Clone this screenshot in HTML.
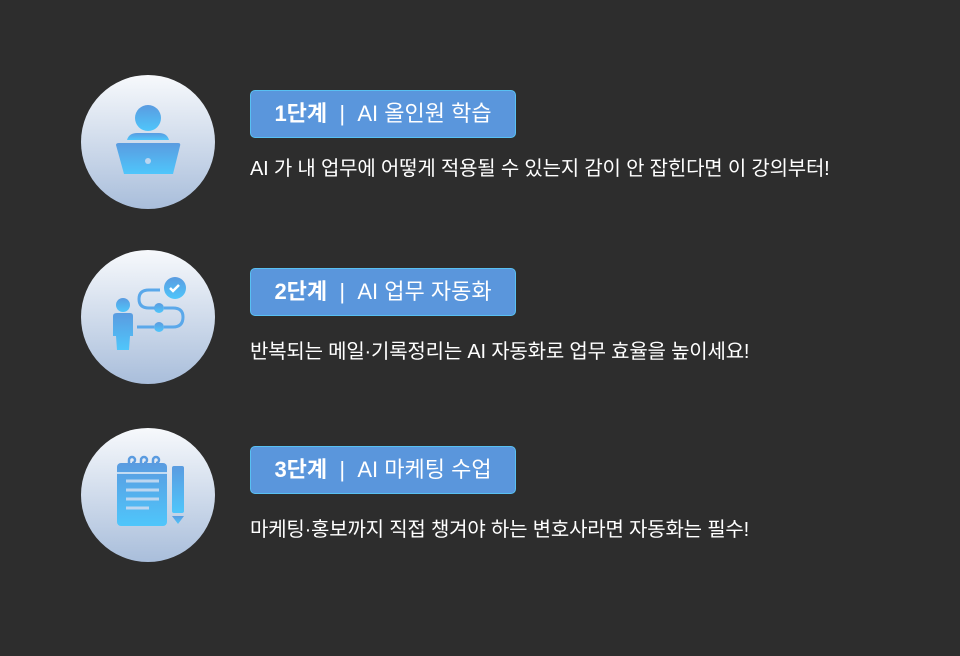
<!DOCTYPE html><html><head><meta charset="utf-8"><style>
body{margin:0;width:960px;height:656px;background:#2d2d2d;font-family:"Liberation Sans","Noto Sans CJK KR",sans-serif;position:relative;overflow:hidden}
.c{position:absolute;left:81px;width:134px;height:134px;border-radius:50%;background:linear-gradient(#f7f9fc,#a9bedb)}
.c svg{position:absolute;left:0;top:0}
.b{position:absolute;left:250px;width:264px;height:46px;background:#5a96dc;border:1px solid #58c0f2;border-radius:5px;color:#fff;font-size:22px;font-weight:bold;line-height:46px;text-align:center;letter-spacing:0px}
.b span{font-weight:normal}
.t{position:absolute;left:250px;color:#fff;font-size:20px;letter-spacing:-0.2px;white-space:nowrap}
</style></head><body>
<svg width="0" height="0" style="position:absolute"><defs><linearGradient id="g" x1="0" y1="0" x2="0" y2="1"><stop offset="0" stop-color="#5a9be0"/><stop offset="1" stop-color="#4fc6fb"/></linearGradient></defs></svg>
<div class="c" style="top:75px"><svg width="134" height="134"><g fill="url(#g)"><circle cx="67" cy="43" r="13"/><path d="M46 65 Q48 58 56 58 H78 Q86 58 88 65 Z"/><path d="M35 70 Q35 68 38 68 H97 Q100 68 99 71 L92 99 H43 Z"/></g><circle cx="67" cy="86" r="3" fill="#bcd6f0"/></svg></div>
<div class="c" style="top:250px"><svg width="134" height="134"><g fill="url(#g)"><circle cx="42" cy="55" r="7"/><path d="M32 66 Q32 63 36 63 H49 Q52 63 52 66 V86 H49 L48 100 H36 L35 86 H32 Z"/><circle cx="94" cy="38" r="11"/><circle cx="78" cy="58" r="5"/><circle cx="78" cy="77" r="5"/></g><g stroke="#5aa8ea" stroke-width="3" fill="none"><path d="M79 40 H68 Q58 40 58 49 Q58 58 68 58 H74"/><path d="M83 58 H92 Q102 58 102 67 Q102 77 92 77 H83"/><path d="M56 77 H73"/></g><path d="M89 38 l3 3 l6 -6" stroke="#fff" stroke-width="2.5" fill="none"/></svg></div>
<div class="c" style="top:428px"><svg width="134" height="134"><g fill="url(#g)"><rect x="36" y="35" width="50" height="63" rx="4"/><rect x="91" y="38" width="12" height="47" rx="2"/><path d="M91 88 H103 L97 96 Z"/></g><g stroke="#5a9be0" stroke-width="2.5" fill="none"><path d="M48 38 v-6 a3 3 0 1 1 3 3"/><path d="M60 38 v-6 a3 3 0 1 1 3 3"/><path d="M72 38 v-6 a3 3 0 1 1 3 3"/></g><g stroke="#bcd6f0" stroke-width="3"><path d="M45 53 H78 M45 62 H78 M45 71 H78 M45 80 H68"/><path d="M36 45 H86" stroke="#e8f0f8" stroke-width="1.5"/></g></svg></div>
<div class="b" style="top:90px">1단계 &nbsp;<span>|</span>&nbsp; <span>AI 올인원 학습</span></div>
<div class="t" style="top:152px">AI 가 내 업무에 어떻게 적용될 수 있는지 감이 안 잡힌다면 이 강의부터!</div>
<div class="b" style="top:268px">2단계 &nbsp;<span>|</span>&nbsp; <span>AI 업무 자동화</span></div>
<div class="t" style="top:335px">반복되는 메일·기록정리는 AI 자동화로 업무 효율을 높이세요!</div>
<div class="b" style="top:446px">3단계 &nbsp;<span>|</span>&nbsp; <span>AI 마케팅 수업</span></div>
<div class="t" style="top:513px">마케팅·홍보까지 직접 챙겨야 하는 변호사라면 자동화는 필수!</div>
</body></html>
